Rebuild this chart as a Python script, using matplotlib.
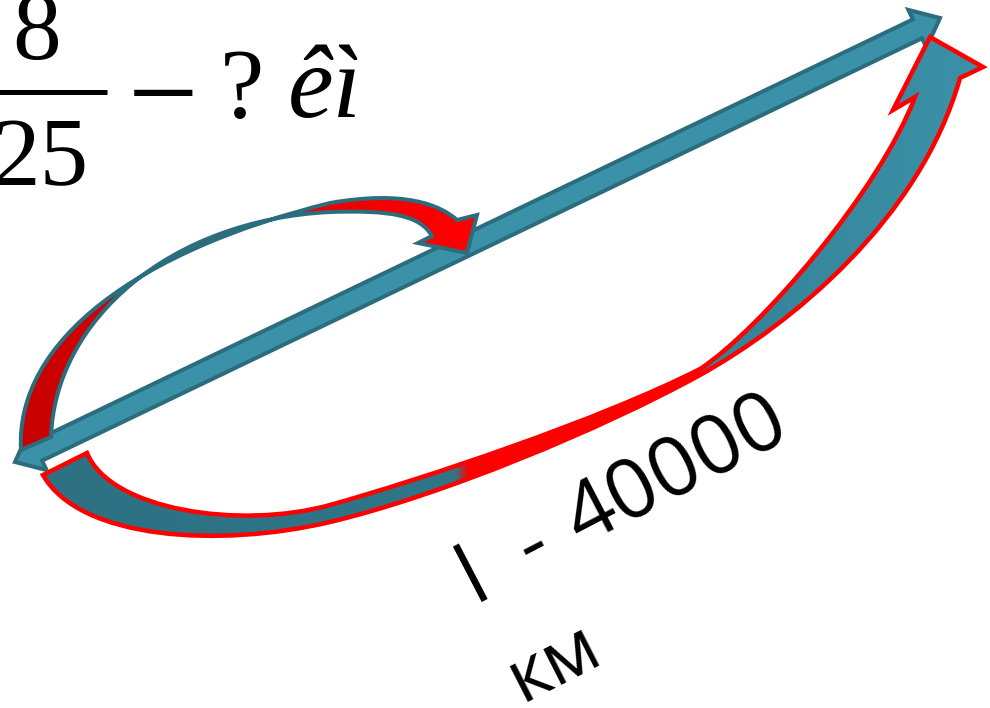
import matplotlib
matplotlib.use("Agg")
import numpy as np
import matplotlib.pyplot as plt
from matplotlib.path import Path
from matplotlib.patches import PathPatch, Polygon
from matplotlib.colors import LinearSegmentedColormap

# ─── Geometry (pixel coordinates, y downwards) ───────────────────────────────
W, H = 990, 708

# straight double arrow
TIP_L = (15, 462)
TIP_R = (940, 18)
SHAFT_HALF = 10.5
HEAD_HALF = 21
HEAD_LEN = 25

# upper curved arrow (red face, teal outline)
UPPER_PATH = [
    ("M", (21, 450)),
    ("C", (15, 340), (140, 250), (330, 203)),
    ("C", (405, 190), (440, 205), (457, 220)),
    ("L", (477, 215)),
    ("L", (467, 253)),
    ("L", (418, 243)),
    ("L", (432, 236)),
    ("C", (420, 215), (390, 210), (330, 212)),
    ("C", (170, 220), (55, 320), (51, 437)),
    ("Z",),
]

# lower curved arrow (teal face, red outline)
LOWER_PATH = [
    ("M", (87, 453)),
    ("C", (110, 510), (240, 530), (330, 505)),
    ("C", (420, 480), (600, 420), (700, 369)),
    ("C", (760, 330), (880, 190), (915, 97)),
    ("L", (893, 110)),
    ("L", (930, 37)),
    ("L", (983, 67)),
    ("L", (960, 78)),
    ("C", (920, 220), (790, 325), (700, 375)),
    ("C", (600, 430), (440, 496), (330, 522)),
    ("C", (220, 548), (80, 540), (43, 475)),
    ("Z",),
]

TEAL = "#3a91a8"
TEAL_DARK = "#2b6d7d"
TEAL_DEEP = "#2d7183"
RED = "#ff0000"
RED_DARK = "#c80000"

# colour stops along x for the twisted ribbon faces
LOWER_STOPS = [(43, TEAL_DEEP), (455, "#2f7689"), (468, RED), (698, RED),
               (712, "#358397"), (983, TEAL)]
UPPER_STOPS = [(20, RED_DARK), (477, RED)]

# text
FRAC_NUM = "8"
FRAC_DEN = "25"
UNKNOWN = "?"
UNIT_TOP = "êì"
LENGTH_LABEL = ["l", "-", "40000"]
LENGTH_ALONG = [6.7, 74, 235.5]
UNIT_LABEL = "км"


def px(lw_px):
    return lw_px * 0.72


def build_path(spec):
    verts, codes = [], []
    for item in spec:
        kind = item[0]
        if kind == "M":
            verts.append(item[1]); codes.append(Path.MOVETO)
        elif kind == "L":
            verts.append(item[1]); codes.append(Path.LINETO)
        elif kind == "C":
            verts.extend(item[1:]); codes.extend([Path.CURVE4] * 3)
        elif kind == "Z":
            verts.append(verts[0]); codes.append(Path.CLOSEPOLY)
    return Path(verts, codes)


def gradient_patch(ax, path, stops, edge, lw, z):
    patch = PathPatch(path, facecolor="none", edgecolor=edge, linewidth=lw,
                      joinstyle="miter", zorder=z + 0.1)
    ax.add_patch(patch)
    x0, x1 = stops[0][0], stops[-1][0]
    cmap = LinearSegmentedColormap.from_list(
        "g", [((x - x0) / (x1 - x0), c) for x, c in stops])
    grad = np.linspace(0, 1, 512).reshape(1, -1)
    im = ax.imshow(grad, cmap=cmap, extent=(x0, x1, H, 0), aspect="auto",
                   interpolation="bilinear", zorder=z)
    im.set_clip_path(patch)


def double_arrow(tl, tr):
    tl, tr = np.array(tl, float), np.array(tr, float)
    u = (tr - tl) / np.linalg.norm(tr - tl)
    n = np.array([-u[1], u[0]])
    pts = [
        tl,
        tl + HEAD_LEN * u + HEAD_HALF * n,
        tl + HEAD_LEN * u + SHAFT_HALF * n,
        tr - HEAD_LEN * u + SHAFT_HALF * n,
        tr - HEAD_LEN * u + HEAD_HALF * n,
        tr,
        tr - HEAD_LEN * u - HEAD_HALF * n,
        tr - HEAD_LEN * u - SHAFT_HALF * n,
        tl + HEAD_LEN * u - SHAFT_HALF * n,
        tl + HEAD_LEN * u - HEAD_HALF * n,
    ]
    return np.array(pts)


fig = plt.figure(figsize=(W / 100, H / 100), dpi=100)
ax = fig.add_axes([0, 0, 1, 1])
fig.patch.set_facecolor("white")

# straight arrow
ax.add_patch(Polygon(double_arrow(TIP_L, TIP_R), closed=True, facecolor=TEAL,
                     edgecolor=TEAL_DARK, linewidth=px(4), joinstyle="miter", zorder=2))

# curved arrows
gradient_patch(ax, build_path(LOWER_PATH), LOWER_STOPS, RED, px(4.5), 3)
gradient_patch(ax, build_path(UPPER_PATH), UPPER_STOPS, TEAL_DARK, px(4), 4)

# formula at top-left
serif = "Liberation Serif"
ax.text(37, 59, FRAC_NUM, fontsize=70, family=serif, ha="center", va="baseline")
ax.text(40, 185, FRAC_DEN, fontsize=70, family=serif, ha="center", va="baseline")
ax.plot([-5, 107], [92, 92], color="black", linewidth=px(5), solid_capstyle="butt")
ax.text(128, 134, "−", fontsize=90, family=serif, ha="left", va="baseline")
ax.text(220, 117, UNKNOWN, fontsize=72, family=serif, ha="left", va="baseline")
ax.text(288, 117, UNIT_TOP, fontsize=74, family=serif, style="italic",
        ha="left", va="baseline")

# rotated length label
ang = 27.5
d = np.array([np.cos(np.radians(ang)), -np.sin(np.radians(ang))])
b0 = np.array([478, 600])
for s, a in zip(LENGTH_LABEL, LENGTH_ALONG):
    p = b0 + a * d
    ax.text(p[0], p[1], s, fontsize=60, family="Open Sans", rotation=ang,
            rotation_mode="anchor", ha="center", va="baseline")
ax.text(563, 681, UNIT_LABEL, fontsize=54, family="Open Sans", rotation=27,
        rotation_mode="anchor", ha="center", va="baseline")

ax.set_xlim(0, W)
ax.set_ylim(H, 0)
ax.axis("off")
fig.savefig("out.png", dpi=100, facecolor="white")
